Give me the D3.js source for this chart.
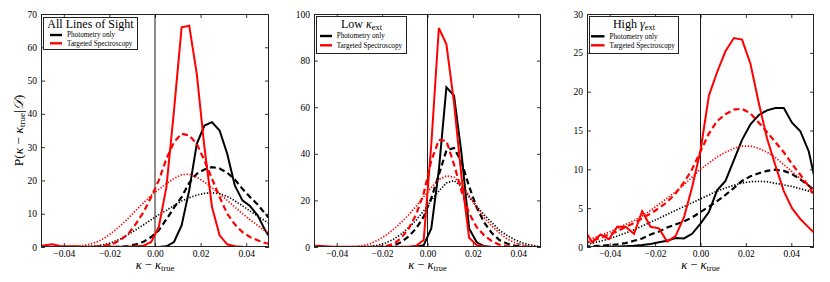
<!DOCTYPE html>
<html><head><meta charset="utf-8">
<script src="https://cdn.jsdelivr.net/npm/d3@7"></script>
<style>
body{margin:0;background:#fff}
svg{display:block}
svg text{font-family:"Liberation Serif","DejaVu Serif",serif;fill:#000}
</style>
</head><body>
<svg id="chart" width="830" height="282"></svg>
<script>
// ---------- DATA ----------
// kappa grid (bin centres) for "All" and "Low kappa_ext" panels
const kappaA = [-0.05167,-0.04833,-0.045,-0.04167,-0.03833,-0.035,-0.03167,-0.02833,-0.025,-0.02167,-0.01833,-0.015,-0.01167,-0.00833,-0.005,-0.00167,0.00167,0.005,0.00833,0.01167,0.015,0.01833,0.02167,0.025,0.02833,0.03167,0.035,0.03833,0.04167,0.045,0.04833,0.05167];
// kappa grid for the "High gamma_ext" panel
const kappaB = [-0.0513,-0.0477,-0.044,-0.0403,-0.0367,-0.033,-0.0293,-0.0257,-0.022,-0.0183,-0.0147,-0.011,-0.0073,-0.0037,0,0.0037,0.0073,0.011,0.0147,0.0183,0.022,0.0257,0.0293,0.033,0.0367,0.0403,0.044,0.0477,0.0513];

// Panel 1: All Lines of Sight
const allPhotSolid = [0,0,0,0,0,0,0,0,0,0,0,0,0,0,0,0,0.02,0.2,1.5,6.5,17,31,36.5,37.5,35,28,18.5,14,12.3,9.5,5,1.5];
const allPhotDash  = [0,0,0,0,0,0,0,0,0,0,0,0.1,0.3,0.8,1.6,3,5,8.3,11.8,15,19.3,22,23.3,24,23.6,22.3,20.3,17.5,15,12.8,10,7.5];
const allPhotDot   = [0,0,0,0.01,0.02,0.05,0.1,0.2,0.4,0.8,1.5,2.5,3.8,5.2,6.7,8.2,9.7,11,12.5,13.8,14.8,15.6,16.1,16.3,16,15.2,13.9,12.4,10.8,9.3,7.8,6.5];
const allSpecSolid = [0.3,0.5,0.8,0.3,0.2,0.2,0.1,0.1,0.05,0.05,0.05,0.05,0.1,0.2,0.4,1.5,6,18,41,66,66.5,52,30,12,3.5,0.8,0.2,0.05,0,0,0,0];
const allSpecDash  = [0,0,0,0,0,0,0,0,0.2,0.5,1,2.2,4,7,10.5,15,20,26.5,31.5,34,33.5,31,26,20.5,15,10,6.8,4.5,3,2,1.2,0.8];
const allSpecDot   = [0.02,0.03,0.05,0.08,0.12,0.2,0.4,0.9,1.6,2.9,4.6,6.5,8.7,11,13.3,15.5,17.3,19,20.6,21.7,21.9,21,19.5,17.8,16,14,12,10,8.2,6.5,4.8,3.5];

// Panel 2: Low kappa_ext
const lowPhotSolid = [0,0,0,0,0,0,0,0,0,0,0,0,0,0,0.1,0.8,8,33,68.5,65,40,8,2,0.3,0,0,0,0,0,0,0,0];
const lowPhotDash  = [0,0,0,0,0,0,0,0,0,0,0.2,0.6,2,4.5,8,13,21,31,41.5,42.5,36.5,26,17,10.5,6,3,1.5,0.6,0.2,0,0,0];
const lowPhotDot   = [0,0,0,0,0,0,0,0.1,0.3,0.8,1.8,3.3,5.5,8.3,11.5,15.5,20,24,27.5,28.5,26,21.5,17.5,13.8,10.5,7.2,5,3.2,1.8,0.9,0.3,0.1];
const lowSpecSolid = [0.3,0.5,0.3,0.1,0.1,0.1,0.1,0.1,0.1,0.1,0.1,0.1,0.1,0.1,0.5,3,44,94,87,62,30,4,0.8,0.2,0,0,0,0,0,0,0,0];
const lowSpecDash  = [0,0,0,0,0,0,0,0,0,0.1,0.4,1.3,3.8,7.8,14,23,37,46,45.5,35.5,24,14.5,8.5,5,2.5,1,0.4,0.1,0,0,0,0];
const lowSpecDot   = [0,0,0,0,0,0.1,0.2,0.6,1.5,3,5,7.5,10.5,13.8,17.5,21.5,25.5,29,30.5,30,27,22,17,12.5,9,6,3.5,1.8,0.9,0.4,0.15,0.05];

// Panel 3: High gamma_ext
const highPhotSolid = [0,0,0.02,0.04,0.06,0.1,0.15,0.25,0.4,0.6,0.8,1.15,1.1,1.7,3.0,4.5,7.3,8.5,11.2,13.8,15.8,17.0,17.6,17.9,17.9,16.0,14.9,12.3,7.5];
const highPhotDash  = [0.05,0.1,0.15,0.25,0.35,0.5,0.8,1.1,1.6,2.0,2.5,2.9,3.3,3.8,4.5,5.2,5.9,6.7,7.6,8.5,9.1,9.5,9.8,9.95,9.8,9.4,8.7,7.9,7.0];
const highPhotDot   = [0.3,0.5,0.75,1.05,1.4,1.8,2.2,2.7,3.2,3.7,4.2,4.7,5.2,5.7,6.2,6.7,7.2,7.6,7.95,8.25,8.4,8.45,8.4,8.2,8.0,7.8,7.5,7.2,6.9];
const highSpecSolid = [2.3,0.6,1.6,1.0,2.6,2.6,1.7,4.6,2.6,2.4,0.7,1.4,3.8,7.7,12.4,19.5,22.5,25.2,26.9,26.7,23.6,18.5,14,10.5,7.2,5.0,3.6,2.5,1.5];
const highSpecDash  = [0.5,0.8,1.2,1.6,2.0,2.6,3.1,3.7,4.3,5.0,5.8,6.9,8.3,10.0,12.3,14.6,16.2,17.1,17.7,17.8,17.2,16.0,14.8,13.5,12.2,10.7,9.3,7.8,6.0];
const highSpecDot   = [0.8,1.1,1.5,1.9,2.4,2.9,3.4,4.0,4.7,5.5,6.3,7.1,8.0,9.0,10.0,10.8,11.6,12.2,12.7,13.0,13.0,12.7,12.2,11.5,10.6,9.7,8.8,7.9,7.0];

// Ticks and labels
const xTicks = [-0.04,-0.02,0.00,0.02,0.04];
const yTicksAll  = [0,10,20,30,40,50,60,70];
const yTicksLow  = [0,20,40,60,80,100];
const yTicksHigh = [0,5,10,15,20,25,30];
const legendLabels = ["Photometry only","Targeted Spectroscopy"];
const colors = {phot:"#000000", spec:"#ff0000"};

// ---------- LAYOUT ----------
const FONT = '"Liberation Serif","DejaVu Serif",serif';
const plotTop = 14, plotBottom = 247;
const panels = [
  {left:41,  right:269, yMax:70,  yTicks:yTicksAll,  xs:kappaA, title:"all",
   series:[allPhotDot,allPhotDash,allPhotSolid,allSpecDot,allSpecDash,allSpecSolid],
   legend:{x:43,y:17,w:94,h:32,titleY:27.5,rows:[35,43.3],lx0:50,lx1:62,tx:67}},
  {left:314, right:541, yMax:100, yTicks:yTicksLow,  xs:kappaA, title:"low",
   series:[lowPhotDot,lowPhotDash,lowPhotSolid,lowSpecDot,lowSpecDash,lowSpecSolid],
   legend:{x:316,y:16,w:90,h:37,titleY:27.5,rows:[36,45.3],lx0:320,lx1:332,tx:336.7}},
  {left:587, right:814, yMax:30,  yTicks:yTicksHigh, xs:kappaB, title:"high",
   series:[highPhotDot,highPhotDash,highPhotSolid,highSpecDot,highSpecDash,highSpecSolid],
   legend:{x:589,y:16,w:89,h:37,titleY:27.5,rows:[36.3,45.3],lx0:591,lx1:604.5,tx:609.5}}
];
const styles = [
  {c:colors.phot, w:1.7, dash:"1.3,1.7"},
  {c:colors.phot, w:2.2, dash:"6,3.5"},
  {c:colors.phot, w:2.0, dash:null},
  {c:colors.spec, w:1.7, dash:"1.3,1.7"},
  {c:colors.spec, w:2.2, dash:"6,3.5"},
  {c:colors.spec, w:2.0, dash:null}
];

const svg = d3.select("#chart");
const fmtX = d3.format(".2f");

panels.forEach((p, pi) => {
  const x = d3.scaleLinear().domain([-0.05, 0.05]).range([p.left, p.right]);
  const y = d3.scaleLinear().domain([0, p.yMax]).range([plotBottom, plotTop]);
  const g = svg.append("g");

  const clipId = "clip" + pi;
  svg.append("clipPath").attr("id", clipId).append("rect")
    .attr("x", p.left).attr("y", plotTop).attr("width", p.right - p.left).attr("height", plotBottom - plotTop);

  // vertical zero line
  g.append("line").attr("x1", x(0)).attr("x2", x(0)).attr("y1", plotTop).attr("y2", plotBottom)
    .attr("stroke", "#000").attr("stroke-width", 0.9);

  // curves
  const lineGen = d3.line().x((d, i) => x(p.xs[i])).y(d => y(d));
  const lg = g.append("g").attr("clip-path", `url(#${clipId})`);
  p.series.forEach((vals, si) => {
    const st = styles[si];
    lg.append("path").datum(vals).attr("d", lineGen)
      .attr("fill", "none").attr("stroke", st.c).attr("stroke-width", st.w)
      .attr("stroke-linejoin", "miter").attr("stroke-linecap", "butt")
      .attr("stroke-dasharray", st.dash);
  });

  // axes (inward ticks on all four sides)
  const axB = d3.axisBottom(x).tickValues(xTicks).tickSize(-4).tickPadding(3)
    .tickFormat(d => fmtX(d));
  const axT = d3.axisTop(x).tickValues(xTicks).tickSize(-4).tickFormat("");
  const axL = d3.axisLeft(y).tickValues(p.yTicks).tickSize(-4).tickPadding(4);
  const axR = d3.axisRight(y).tickValues(p.yTicks).tickSize(-4).tickFormat("");
  const styleAx = sel => {
    sel.attr("font-family", null);
    sel.select(".domain").remove();
    sel.selectAll(".tick line").attr("stroke", "#000").attr("stroke-width", 0.8);
    sel.selectAll("text").style("font-family", FONT).style("font-size", "9.5px").attr("fill", "#000");
  };
  g.append("g").attr("transform", `translate(0,${plotBottom})`).call(axB).call(styleAx);
  g.append("g").attr("transform", `translate(0,${plotTop})`).call(axT).call(styleAx);
  g.append("g").attr("transform", `translate(${p.left},0)`).call(axL).call(styleAx);
  g.append("g").attr("transform", `translate(${p.right},0)`).call(axR).call(styleAx);

  // frame
  g.append("rect").attr("x", p.left + 0.5).attr("y", plotTop + 0.5)
    .attr("width", p.right - p.left - 1).attr("height", plotBottom - plotTop - 1)
    .attr("fill", "none").attr("stroke", "#222").attr("stroke-width", 1);

  // x label
  const xl = g.append("text").attr("x", (p.left + p.right) / 2).attr("y", 268.5)
    .attr("text-anchor", "middle").style("font-family", FONT).style("font-size", "12.5px");
  xl.append("tspan").attr("font-style", "italic").text("κ");
  xl.append("tspan").text(" − ");
  xl.append("tspan").attr("font-style", "italic").text("κ");
  xl.append("tspan").style("font-size", "8.5px").attr("dy", 2.5).text("true");

  // legend
  const L = p.legend;
  g.append("rect").attr("x", L.x + 0.5).attr("y", L.y + 0.5).attr("width", L.w).attr("height", L.h)
    .attr("fill", "#fff").attr("stroke", "#222").attr("stroke-width", 1);
  const tt = g.append("text").attr("x", L.x + L.w / 2 + 0.5).attr("y", L.titleY)
    .attr("text-anchor", "middle").style("font-family", FONT).style("font-size", "12px");
  if (p.title === "all") {
    tt.text("All Lines of Sight");
  } else {
    tt.append("tspan").text(p.title === "low" ? "Low " : "High ");
    tt.append("tspan").attr("font-style", "italic").text(p.title === "low" ? "κ" : "γ");
    tt.append("tspan").style("font-size", "8.5px").attr("dy", 2.5).text("ext");
  }
  legendLabels.forEach((lab, k) => {
    const c = k === 0 ? colors.phot : colors.spec;
    g.append("line").attr("x1", L.lx0).attr("x2", L.lx1).attr("y1", L.rows[k]).attr("y2", L.rows[k])
      .attr("stroke", c).attr("stroke-width", 2.4);
    g.append("text").attr("x", L.tx).attr("y", L.rows[k] + 2.4)
      .style("font-family", FONT).style("font-size", "7.2px").text(lab);
  });
});

// y label (first panel only)
const yl = svg.append("text").attr("transform", `translate(22.5,${(plotTop + plotBottom) / 2}) rotate(-90)`)
  .attr("text-anchor", "middle").style("font-family", FONT).style("font-size", "13.5px");
yl.append("tspan").text("P(");
yl.append("tspan").attr("font-style", "italic").text("κ");
yl.append("tspan").text(" − ");
yl.append("tspan").attr("font-style", "italic").text("κ");
yl.append("tspan").style("font-size", "9px").attr("dy", 2.5).text("true");
yl.append("tspan").attr("dy", -2.5).text("|");
yl.append("tspan").attr("font-style", "italic").text("𝒟");
yl.append("tspan").text(")");
</script>
</body></html>
